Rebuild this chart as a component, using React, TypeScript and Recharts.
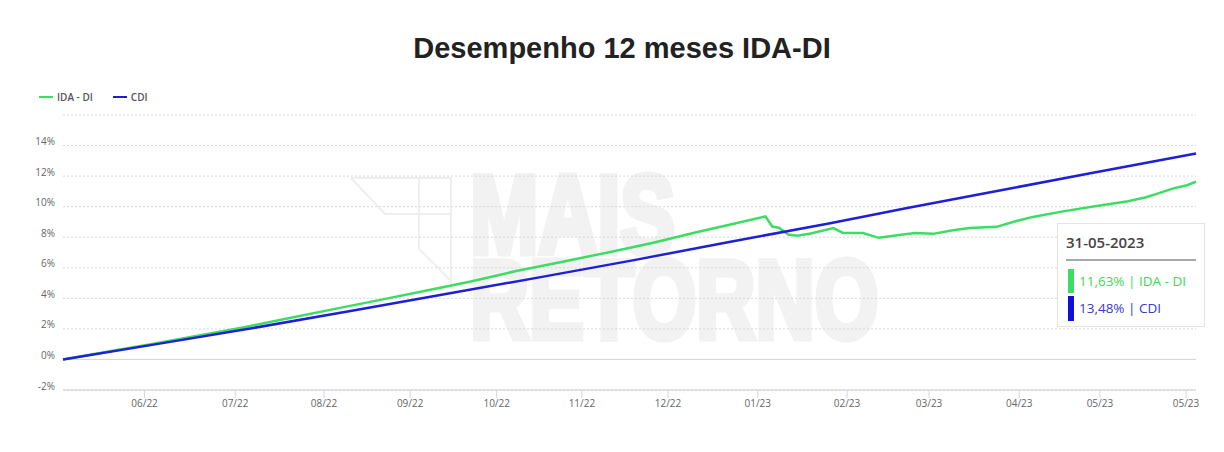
import React from 'react';
import { LineChart, Line, XAxis, YAxis, CartesianGrid, ReferenceLine } from 'recharts';

// x runs in trading-day units (0 = 31-05-2022, 250 = 31-05-2023)
const idaT = [0, 10, 20, 30, 40, 50, 60, 70, 80, 90, 100, 110, 120, 130, 140, 148, 155, 156.5, 158, 160, 162, 165, 170, 172, 176.5, 180, 184.5, 188, 192, 196, 200, 206, 210, 214, 220, 227, 235, 239, 242, 245, 248, 250];
const idaValues = [0, 0.52, 1.03, 1.57, 2.11, 2.71, 3.31, 3.9, 4.5, 5.1, 5.79, 6.38, 6.99, 7.62, 8.34, 8.88, 9.36, 8.7, 8.62, 8.18, 8.1, 8.25, 8.6, 8.3, 8.28, 7.96, 8.15, 8.27, 8.22, 8.44, 8.6, 8.68, 9.03, 9.33, 9.66, 10.0, 10.35, 10.62, 10.9, 11.2, 11.4, 11.63];

const cdiT = [0, 21, 42, 65, 86, 106, 126, 147, 169, 186, 209, 227, 250];
const cdiValues = [0, 1.02, 2.06, 3.25, 4.36, 5.42, 6.5, 7.69, 8.9, 9.9, 11.19, 12.21, 13.48];

const xTickPos = [18, 38, 57.6, 76.6, 95.7, 114.5, 133.5, 153.3, 173, 191.1, 211, 228.8, 247.8];
const xTickLabels = ['06/22', '07/22', '08/22', '09/22', '10/22', '11/22', '12/22', '01/23', '02/23', '03/23', '04/23', '05/23', '05/23'];
const yTicks = [-2, 0, 2, 4, 6, 8, 10, 12, 14, 16];

const lastDate = '31-05-2023';

const GREEN = '#3ddc63';
const BLUE = '#1f1fd8';

const idaData = idaT.map((t, i) => ({ t, v: idaValues[i] }));
const cdiData = cdiT.map((t, i) => ({ t, v: cdiValues[i] }));

const fmt = (v: number) => v.toFixed(2).replace('.', ',') + '%';

export default function App() {
  const axisFont = { fontSize: 10, fill: '#666', fontFamily: 'Open Sans' };
  return (
    <div style={{ position: 'absolute', left: 0, top: 0, width: 1224, height: 452, background: '#fff', overflow: 'hidden' }}>
      <div style={{ position: 'absolute', left: 20, top: 31, width: 1204, textAlign: 'center', fontFamily: 'Liberation Sans', fontWeight: 'bold', fontSize: 29, lineHeight: '34px', color: '#222' }}>
        Desempenho 12 meses IDA-DI
      </div>

      {/* watermark */}
      <svg width={1224} height={452} style={{ position: 'absolute', left: 0, top: 0 }}>
        <g fill="none" stroke="#efefef" strokeWidth={2}>
          <polyline points="351,178 451,178 451,285" />
          <polyline points="351,178 385,214 451,214" />
          <polyline points="419,178 419,249 451,281" />
        </g>
      </svg>
      <div
        style={{
          position: 'absolute',
          left: 470,
          top: 171,
          fontFamily: 'Liberation Sans',
          fontWeight: 'bold',
          fontSize: 82,
          lineHeight: '63px',
          color: '#f2f2f2',
          WebkitTextStroke: '5px #f2f2f2',
          transform: 'scaleY(1.36)',
          transformOrigin: 'top left',
          whiteSpace: 'nowrap',
        }}
      >
        MAIS
        <br />
        RETORNO
      </div>

      <div style={{ position: 'absolute', left: 39, top: 90, display: 'flex', alignItems: 'center', fontFamily: 'Open Sans', fontSize: 10, fontWeight: 600, color: '#555' }}>
        <span style={{ width: 14, height: 2, background: GREEN, display: 'inline-block', marginRight: 4 }} />
        <span>IDA - DI</span>
        <span style={{ width: 14, height: 2, background: BLUE, display: 'inline-block', marginLeft: 20, marginRight: 4 }} />
        <span>CDI</span>
      </div>

      <div style={{ position: 'absolute', left: 0, top: 0 }}>
        <LineChart width={1224} height={452} margin={{ top: 115, right: 28, bottom: 32, left: 8 }}>
          <CartesianGrid horizontal vertical={false} stroke="#d9d9d9" strokeDasharray="2 2" />
          <XAxis
            type="number"
            dataKey="t"
            domain={[0, 250]}
            ticks={xTickPos}
            tickFormatter={(v: number) => xTickLabels[xTickPos.indexOf(v)] ?? ''}
            interval={0}
            height={30}
            tick={axisFont}
            tickSize={8}
            tickLine={{ stroke: '#ccd6eb' }}
            axisLine={{ stroke: '#cccccc' }}
            allowDuplicatedCategory
          />
          <YAxis
            type="number"
            domain={[-2, 16]}
            ticks={yTicks}
            interval={0}
            width={55}
            tick={{ ...axisFont, dy: -4 }}
            tickFormatter={(v: number) => (v === 16 ? '' : v + '%')}
            axisLine={false}
            tickLine={false}
          />
          <ReferenceLine y={0} stroke="#d6d6d6" />
          <Line data={idaData} dataKey="v" name="IDA - DI" type="linear" stroke={GREEN} strokeWidth={2.5} dot={false} isAnimationActive={false} />
          <Line data={cdiData} dataKey="v" name="CDI" type="linear" stroke={BLUE} strokeWidth={2.5} dot={false} isAnimationActive={false} />
        </LineChart>
      </div>

      <div style={{ position: 'absolute', left: 1057, top: 223, width: 148, height: 104, background: 'rgba(255,255,255,0.92)', border: '1px solid #e4e4e4', boxSizing: 'border-box', fontFamily: 'Open Sans' }}>
        <div style={{ position: 'absolute', left: 8, top: 8, fontSize: 15, fontWeight: 600, color: '#444' }}>{lastDate}</div>
        <div style={{ position: 'absolute', left: 8, top: 35, width: 130, height: 2, background: '#a8a8a8' }} />
        <div style={{ position: 'absolute', left: 10, top: 45, width: 6, height: 24, background: GREEN }} />
        <div style={{ position: 'absolute', left: 21, top: 48, fontSize: 13.5, color: '#44d655' }}>{fmt(idaValues[idaValues.length - 1])} | IDA - DI</div>
        <div style={{ position: 'absolute', left: 10, top: 72, width: 6, height: 25, background: '#0f0fe0' }} />
        <div style={{ position: 'absolute', left: 21, top: 75, fontSize: 13.5, color: '#3a3ac8' }}>{fmt(cdiValues[cdiValues.length - 1])} | CDI</div>
      </div>
    </div>
  );
}
